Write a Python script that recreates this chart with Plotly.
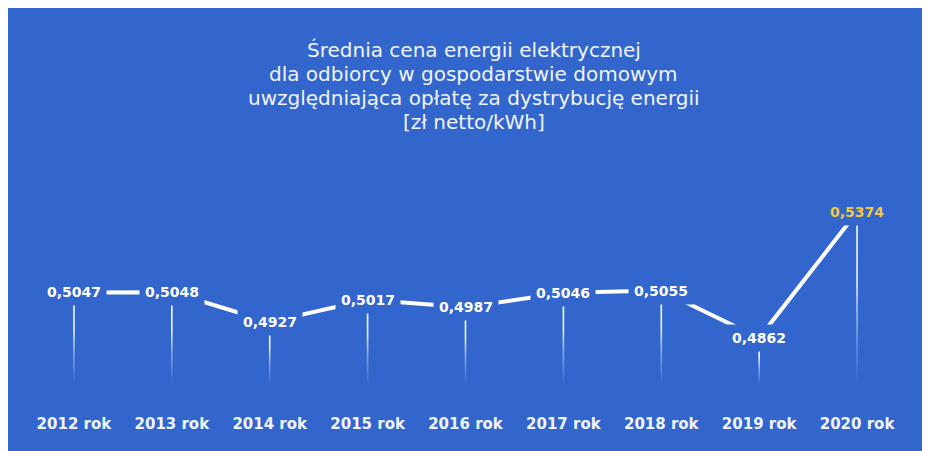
import plotly.graph_objects as go

# data
years = ["2012 rok", "2013 rok", "2014 rok", "2015 rok", "2016 rok",
         "2017 rok", "2018 rok", "2019 rok", "2020 rok"]
prices = [0.5047, 0.5048, 0.4927, 0.5017, 0.4987, 0.5046, 0.5055, 0.4862, 0.5374]
labels = ["0,5047", "0,5048", "0,4927", "0,5017", "0,4987",
          "0,5046", "0,5055", "0,4862", "0,5374"]
title_lines = ["Średnia cena energii elektrycznej",
               "dla odbiorcy w gospodarstwie domowym",
               "uwzględniająca opłatę za dystrybucję energii",
               "[zł netto/kWh]"]

BG = "#3366CC"
FONT = "DejaVu Sans"
drop_base = 0.467
half_w = 0.0085  # half width of the drop lines, in category units

M_T, M_B, H = 132, 59, 451
PLOT_H = H - M_T - M_B


def paper_y(px):
    # figure pixel (from top) -> paper coordinate
    return (H - M_B - px) / PLOT_H


fig = go.Figure()

# drop lines fading into the background (thin gradient-filled strips)
for i, v in enumerate(prices):
    fig.add_trace(go.Scatter(
        x=[i - half_w, i + half_w, i + half_w, i - half_w, i - half_w],
        y=[drop_base, drop_base, v, v, drop_base],
        xaxis="x2", mode="lines", fill="toself", line=dict(width=0),
        fillgradient=dict(type="vertical", colorscale=[
            [0, "rgba(225,235,255,0)"], [0.35, "rgba(230,238,255,0.45)"],
            [0.6, "rgba(240,244,255,0.95)"], [1, "rgba(245,248,255,1)"]]),
        hoverinfo="skip", showlegend=False))

# main line
fig.add_trace(go.Scatter(
    x=years, y=prices, mode="lines",
    line=dict(color="white", width=4),
    showlegend=False))

# data labels with background so the line breaks around them
for i, (cat, v, t) in enumerate(zip(years, prices, labels)):
    col = "#F2C744" if i == len(years) - 1 else "white"
    fig.add_annotation(
        x=cat, y=v, text=f"<b>{t}</b>", showarrow=False,
        font=dict(family=FONT, size=14, color=col),
        bgcolor=BG, borderpad=5)

# title, one line per annotation to keep the line spacing of the original
for k, line in enumerate(title_lines):
    fig.add_annotation(
        xref="paper", yref="paper", x=0.5 + 8 / 881, y=paper_y(42 + 24 * k),
        text=line, showarrow=False, xanchor="center", yanchor="middle",
        font=dict(family=FONT, size=20, color="#F0F4FC"))

fig.update_layout(
    width=930, height=H,
    paper_bgcolor=BG, plot_bgcolor=BG,
    margin=dict(l=17, r=32, t=M_T, b=M_B),
    xaxis=dict(type="category", range=[-0.5, 8.5], showgrid=False,
               zeroline=False, showline=False, ticks="",
               tickfont=dict(family=FONT, size=15, color="#F0F4FC"),
               ticklabelstandoff=13),
    xaxis2=dict(overlaying="x", range=[-0.5, 8.5], visible=False),
    yaxis=dict(range=[0.46101, 0.56666], visible=False),
)
fig.update_xaxes(tickvals=years, ticktext=[f"<b>{y}</b>" for y in years],
                 selector=dict(type="category"))

fig.write_html("out.html")
